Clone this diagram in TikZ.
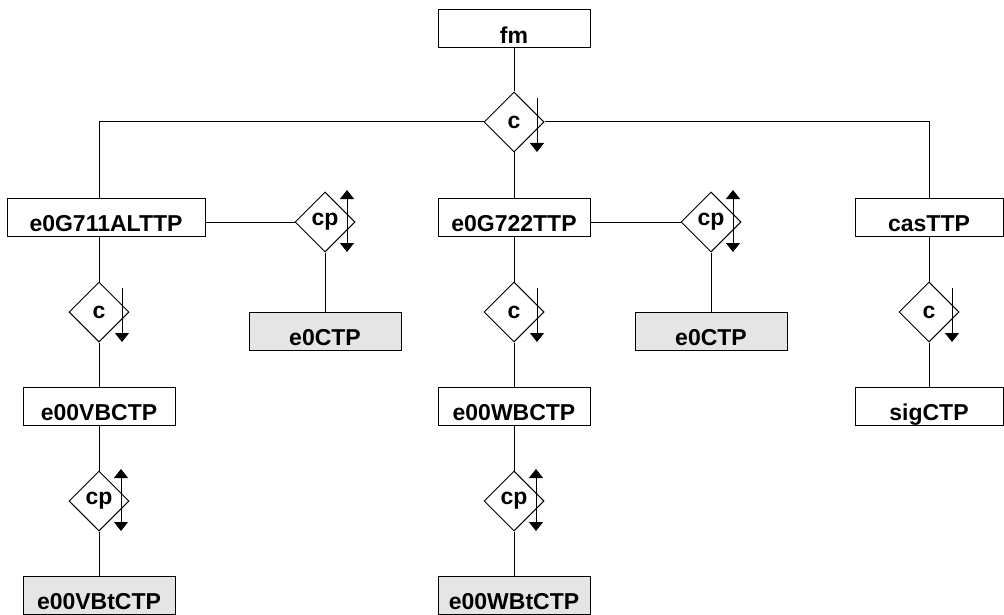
\documentclass[tikz,border=0pt]{standalone}
\usepackage{fontspec}
\setmainfont{Liberation Sans}
\usetikzlibrary{shapes.geometric,arrows.meta}
\begin{document}
\begin{tikzpicture}[x=1pt, y=-1pt, line width=1pt,
    tbox/.style={draw, rectangle, minimum width=152pt, minimum height=38pt, inner sep=0pt, text height=29pt, text depth=0pt, font=\fontsize{23}{27}\selectfont\bfseries},
    gbox/.style={tbox, fill=gray!20},
    dia/.style={draw, diamond, minimum width=60pt, minimum height=60pt, inner sep=0pt, font=\fontsize{23}{27}\selectfont\bfseries},
    tip/.style={-{Triangle[width=14pt,length=9pt]}},
    bitip/.style={{Triangle[width=14pt,length=9pt]}-{Triangle[width=14pt,length=9pt]}}]
    \useasboundingbox (0,0) rectangle (1004,615);

    % Top level
    \node[tbox] (fm) at (514,29) {fm};
    \node[dia] (cTop) at (514,122) {c};

    % Left column
    \node[tbox, minimum width=198pt] (g711) at (106,217) {e0G711ALTTP};
    \node[dia] (cpA) at (325,222) {cp};
    \node[gbox] (ctpA) at (325,331) {e0CTP};
    \node[dia] (cA) at (99,312) {c};
    \node[tbox] (vbc) at (99,406) {e00VBCTP};
    \node[dia] (cpB) at (99,501) {cp};
    \node[gbox] (vbt) at (99,595) {e00VBtCTP};

    % Middle column
    \node[tbox] (g722) at (514,217) {e0G722TTP};
    \node[dia] (cpC) at (711,222) {cp};
    \node[gbox] (ctpB) at (711,331) {e0CTP};
    \node[dia] (cB) at (514,312) {c};
    \node[tbox] (wbc) at (514,406) {e00WBCTP};
    \node[dia] (cpD) at (514,501) {cp};
    \node[gbox] (wbt) at (514,595) {e00WBtCTP};

    % Right column
    \node[tbox, minimum width=148pt] (cas) at (929,217) {casTTP};
    \node[dia] (cC) at (929,312) {c};
    \node[tbox, minimum width=148pt] (sig) at (929,406) {sigCTP};

    % Connectors
    \draw (fm.south) -- (cTop.north);
    \draw (cTop.west) -- (cTop.west -| cA) -- (g711.north -| cA);
    \draw (cTop.east) -- (cTop.east -| cC) -- (cas.north);
    \draw (cTop.south) -- (g722.north);

    \draw (g711.east |- cpA) -- (cpA.west);
    \draw (cpA.south) -- (ctpA.north);
    \draw (g711.south -| cA) -- (cA.north);
    \draw (cA.south) -- (vbc.north);
    \draw (vbc.south) -- (cpB.north);
    \draw (cpB.south) -- (vbt.north);

    \draw (g722.east |- cpC) -- (cpC.west);
    \draw (cpC.south) -- (ctpB.north);
    \draw (g722.south) -- (cB.north);
    \draw (cB.south) -- (wbc.north);
    \draw (wbc.south) -- (cpD.north);
    \draw (cpD.south) -- (wbt.north);

    \draw (cas.south) -- (cC.north);
    \draw (cC.south) -- (sig.north);

    % Direction marks on the diamonds
    \foreach \d in {cTop, cA, cB, cC}
        \draw[tip] ([shift={(23,-24)}]\d.center) -- ++(0,54);
    \foreach \d in {cpA, cpB, cpC, cpD}
        \draw[bitip] ([shift={(22,-32)}]\d.center) -- ++(0,62);
\end{tikzpicture}
\end{document}
